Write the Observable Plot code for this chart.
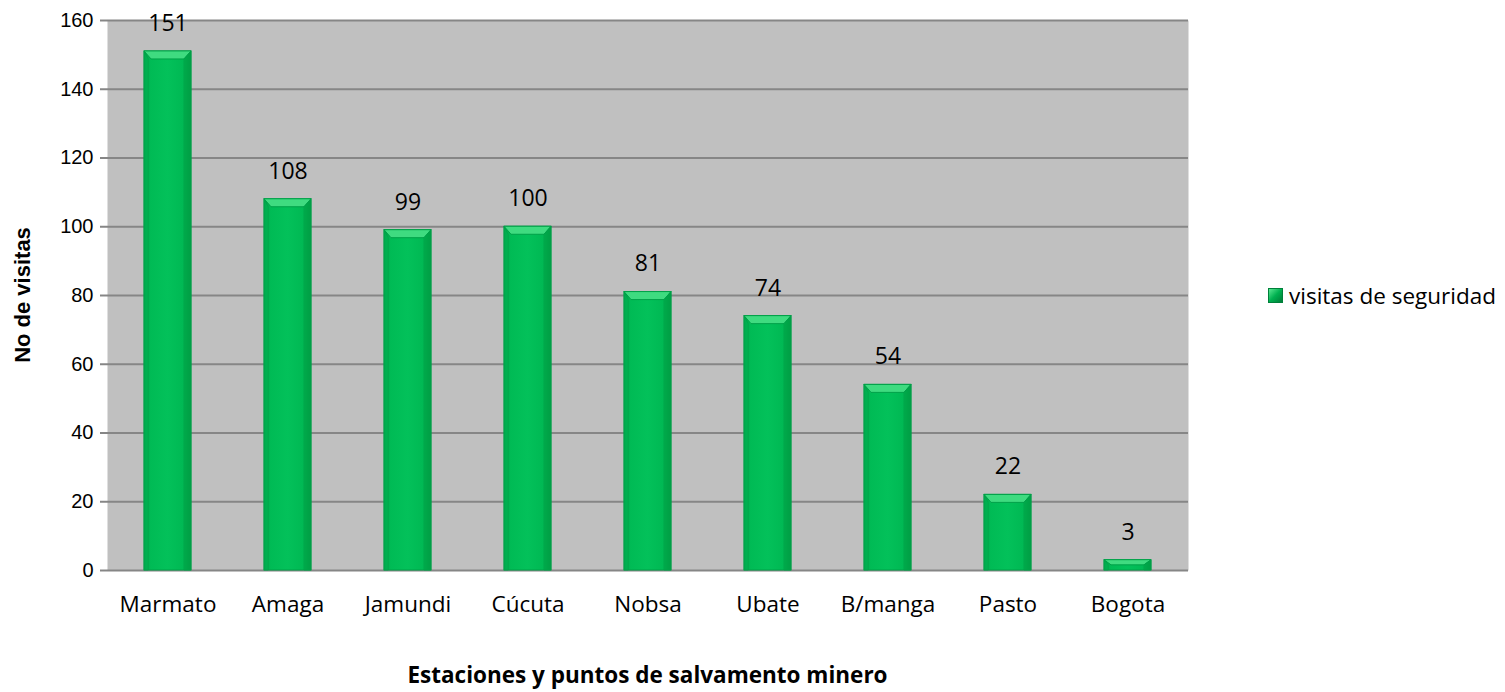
<!DOCTYPE html>
<html>
<head>
<meta charset="utf-8">
<script src="https://cdn.jsdelivr.net/npm/d3@7"></script>
<script src="https://cdn.jsdelivr.net/npm/@observablehq/plot@0.6"></script>
<style>
  body { margin: 0; background: #fff; }
  #wrap { position: relative; width: 1505px; height: 692px; overflow: hidden; }
  #legend { position: absolute; left: 1268px; top: 280px; font-family: "Open Sans", "Noto Sans", sans-serif; font-size: 22.5px; color: #000; display: flex; align-items: center; gap: 6px; white-space: nowrap; }
  #legend .sw { width: 15px; height: 15px; background: linear-gradient(135deg, #5ae892, #00b050 50%, #007d38); border: 1px solid #00803a; box-sizing: border-box; }
</style>
</head>
<body>
<div id="wrap"><div id="legend"><span class="sw"></span><span id="legendText"></span></div></div>
<script>
const categories = ["Marmato", "Amaga", "Jamundi", "Cúcuta", "Nobsa", "Ubate", "B/manga", "Pasto", "Bogota"];
const values = [151, 108, 99, 100, 81, 74, 54, 22, 3];
const yTicks = [0, 20, 40, 60, 80, 100, 120, 140, 160];
const seriesName = "visitas de seguridad";
const xTitle = "Estaciones y puntos de salvamento minero";
const yTitle = "No de visitas";

document.getElementById("legendText").textContent = seriesName;

const data = categories.map((c, i) => ({ station: c, value: values[i] }));
const sans = "'Open Sans', 'Noto Sans', sans-serif";

const chart = Plot.plot({
  width: 1505,
  height: 692,
  marginLeft: 107,
  marginRight: 317,
  marginTop: 20,
  marginBottom: 122,
  style: { fontFamily: sans, background: "transparent", overflow: "visible" },
  x: { domain: categories, paddingInner: 0.61, paddingOuter: 0.305, label: null, axis: null },
  y: { domain: [0, 160], label: null, axis: null },
  marks: [
    Plot.frame({ fill: "#c0c0c0", stroke: null }),
    Plot.ruleY(yTicks, { stroke: "#868686", strokeWidth: 2 }),
    Plot.barY(data, { x: "station", y: "value", fill: "url(#barGrad)", stroke: "#00a048", strokeWidth: 1, className: "mainbar" }),
    Plot.text(data, { x: "station", y: "value", text: d => String(d.value), dy: -28, fontSize: 23, fill: "#000" }),
    Plot.axisX({ domain: categories, tickSize: 0, tickPadding: 26, fontSize: 22.5, fill: "#000", fontFamily: sans }),
    Plot.axisY({ ticks: yTicks, tickSize: 7, tickPadding: 7, fontSize: 20, stroke: "#868686", strokeWidth: 2, fontFamily: "'Liberation Sans', Arial, sans-serif", fill: "#000" })
  ]
});

const svg = d3.select(chart);
const defs = svg.insert("defs", ":first-child");
const g = defs.append("linearGradient").attr("id", "barGrad").attr("x1", "0").attr("x2", "1").attr("y1", "0").attr("y2", "0");
g.append("stop").attr("offset", "0").attr("stop-color", "#00a048");
g.append("stop").attr("offset", "0.14").attr("stop-color", "#00bb55");
g.append("stop").attr("offset", "0.5").attr("stop-color", "#03c15a");
g.append("stop").attr("offset", "0.86").attr("stop-color", "#00b853");
g.append("stop").attr("offset", "1").attr("stop-color", "#00913f");

// bevel highlight on top of each bar rendered by Plot
svg.selectAll("g.mainbar rect").each(function() {
  const r = d3.select(this);
  const x = +r.attr("x"), y = +r.attr("y"), w = +r.attr("width"), h = +r.attr("height");
  const cap = Math.min(8, h / 2);
  const inset = Math.min(7, w / 4);
  const parent = d3.select(this.parentNode);
  parent.append("polygon")
    .attr("points", `${x},${y} ${x + w},${y} ${x + w - inset},${y + cap} ${x + inset},${y + cap}`)
    .attr("fill", "#3fdb80");
  parent.append("polygon")
    .attr("points", `${x + w},${y} ${x + w},${y + h} ${x + w - inset},${y + h} ${x + w - inset},${y + cap}`)
    .attr("fill", "#00a447").attr("opacity", 0.7);
  parent.append("polygon")
    .attr("points", `${x},${y} ${x},${y + h} ${x + inset * 0.6},${y + h} ${x + inset * 0.6},${y + cap}`)
    .attr("fill", "#00b352").attr("opacity", 0.6);
});

svg.append("text")
  .attr("x", (107 + 1188) / 2).attr("y", 683)
  .attr("text-anchor", "middle")
  .attr("font-family", sans)
  .attr("font-weight", "bold").attr("font-size", 22.5)
  .text(xTitle);
svg.append("text")
  .attr("transform", `translate(30, ${(20 + 570) / 2}) rotate(-90)`)
  .attr("text-anchor", "middle")
  .attr("font-family", "'Liberation Sans', Arial, sans-serif")
  .attr("font-weight", "bold").attr("font-size", 22)
  .text(yTitle);

document.getElementById("wrap").prepend(chart);
chart.style.position = "absolute";
chart.style.left = "0";
chart.style.top = "0";
</script>
</body>
</html>
